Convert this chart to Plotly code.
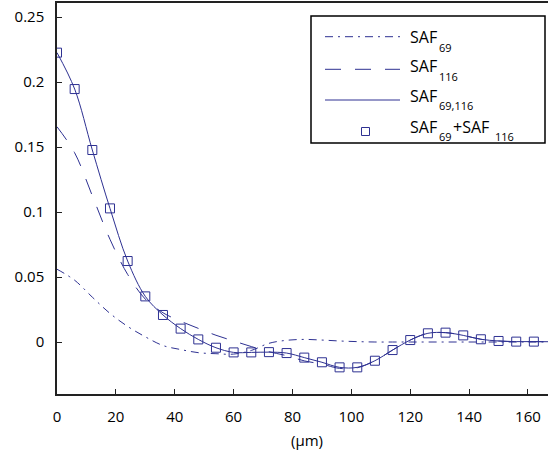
import plotly.graph_objects as go

# distance (um) sampled every 6 um
x = [0, 6, 12, 18, 24, 30, 36, 42, 48, 54, 60, 66, 72, 78, 84, 90, 96, 102,
     108, 114, 120, 126, 132, 138, 144, 150, 156, 162, 168]

saf69 = [0.056, 0.0475, 0.0345, 0.022, 0.012, 0.004, -0.0027, -0.0058, -0.0082,
         -0.009, -0.0093, -0.0065, -0.001, 0.0013, 0.002, 0.0015, 0.0008, 0.0003,
         0.0, 0.0, 0.0, 0.0, 0.0, 0.0, 0.0, 0.0, 0.0, 0.0, 0.0]

saf116 = [0.1656, 0.1455, 0.1125, 0.079, 0.052, 0.033, 0.0225, 0.016, 0.0105,
          0.0052, 0.0008, -0.0035, -0.0075, -0.0105, -0.0145, -0.017, -0.0203,
          -0.0198, -0.0144, -0.0062, 0.0015, 0.0067, 0.0072, 0.0051, 0.0021,
          0.0008, 0.0003, 0.0003, 0.0002]

saf69_116 = [0.2226, 0.1946, 0.1477, 0.1028, 0.0623, 0.0351, 0.0208, 0.0103, 0.002,
             -0.0044, -0.008, -0.008, -0.0078, -0.0085, -0.012, -0.0156, -0.0195,
             -0.0195, -0.0144, -0.0062, 0.0015, 0.0067, 0.0072, 0.0051, 0.0021,
             0.0008, 0.0003, 0.0003, 0.0002]

# SAF69 + SAF116 squares (0..162)
x_sum = x[:-1]
saf_sum = saf69_116[:-1]

# legend labels split as (main text, subscript) pieces
legend_parts = [
    [("SAF", "69")],
    [("SAF", "116")],
    [("SAF", "69,116")],
    [("SAF", "69"), ("+SAF", "116")],
]

blue = "#2e3192"
font = "Open Sans"

# plot area in pixels: left 57, top 3, width 491, height 391
def px(v):
    return (v - 57) / 491.0

def py(v):
    return (394 - v) / 391.0


fig = go.Figure()
fig.add_trace(go.Scatter(x=x, y=saf69, mode="lines", line_shape="spline",
                         line=dict(color=blue, width=1, dash="8px,5px,2px,5px")))
fig.add_trace(go.Scatter(x=x, y=saf116, mode="lines", line_shape="spline",
                         line=dict(color=blue, width=1, dash="16px,14px")))
fig.add_trace(go.Scatter(x=x, y=saf69_116, mode="lines", line_shape="spline",
                         line=dict(color=blue, width=1)))
fig.add_trace(go.Scatter(x=x_sum, y=saf_sum, mode="markers",
                         marker=dict(symbol="square-open", size=9, color=blue,
                                     line=dict(width=1, color=blue))))

# hand made legend box
fig.add_shape(type="rect", xref="paper", yref="paper", x0=px(311), x1=px(545),
              y0=py(143), y1=py(16), line=dict(color="black", width=1.5),
              fillcolor="white", layer="above")
line_rows = [36.7, 69.3, 100, 131.7]
dashes = ["8px,5px,2px,5px", "16px,14px", "solid"]
for yy, d in zip(line_rows[:3], dashes):
    fig.add_shape(type="line", xref="paper", yref="paper", x0=px(325), x1=px(400),
                  y0=py(yy), y1=py(yy), line=dict(color=blue, width=1, dash=d),
                  layer="above")
fig.add_shape(type="rect", xref="paper", yref="paper", x0=px(361.5), x1=px(369.5),
              y0=py(135.5), y1=py(127.5), line=dict(color=blue, width=1), layer="above")

text_rows = [37, 66.5, 96, 126.5]
for yy, parts in zip(text_rows, legend_parts):
    xx = 408
    for main, sub in parts:
        fig.add_annotation(text=main, xref="paper", yref="paper", x=px(xx), y=py(yy),
                           xanchor="left", yanchor="middle", showarrow=False,
                           font=dict(family=font, size=16, color="black"))
        xx += 12 * len(main) - 6 if main.startswith("+") else 29
        fig.add_annotation(text=sub, xref="paper", yref="paper", x=px(xx),
                           y=py(yy + 10), xanchor="left", yanchor="middle",
                           showarrow=False,
                           font=dict(family=font, size=11, color="black"))
        xx += 6.6 * len(sub) + 1

fig.add_annotation(text="(μm)", xref="x", yref="paper", x=85, y=py(440),
                   yanchor="middle", showarrow=False,
                   font=dict(family=font, size=15, color="black"))

fig.update_xaxes(range=[0, 166.8], tickvals=[0, 20, 40, 60, 80, 100, 120, 140, 160],
                 ticks="inside", ticklen=5, tickcolor="#222", showline=True,
                 linecolor="#222", linewidth=1.5, mirror=True, showgrid=False,
                 zeroline=False, ticklabelstandoff=8, automargin=False)
fig.update_yaxes(range=[-0.04, 0.2608], tick0=0, dtick=0.05, ticks="inside",
                 ticklen=5, tickcolor="#222", showline=True, linecolor="#222",
                 linewidth=1.5, showgrid=False, zeroline=False, ticklabelstandoff=8,
                 automargin=False)
fig.update_layout(width=548, height=452, margin=dict(l=57, r=0, t=3, b=58),
                  plot_bgcolor="white", paper_bgcolor="white", showlegend=False,
                  font=dict(family=font, size=15, color="black"))
# drop the browser's default 8px body margin so the figure sits at the corner
fig.write_html("out.html", config={"displayModeBar": False},
               post_script="document.body.style.margin='0';")
